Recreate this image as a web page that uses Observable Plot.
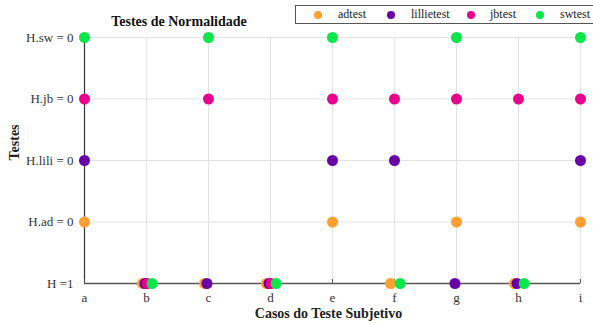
<!DOCTYPE html>
<html>
<head>
<meta charset="utf-8">
<script src="https://cdn.jsdelivr.net/npm/d3@7"></script>
<script src="https://cdn.jsdelivr.net/npm/@observablehq/plot@0.6"></script>
<style>
  html, body { margin: 0; padding: 0; background: #fff; }
  #wrap { position: relative; width: 593px; height: 325px; overflow: hidden; font-family: "Liberation Serif", serif; }
  #title { position: absolute; left: 179px; top: 14px; transform: translateX(-50%); font-weight: bold; font-size: 14px; color: #111; white-space: nowrap; }
  #legend { position: absolute; left: 295px; top: 5px; width: 310px; height: 17px; border: 1.3px solid #555; background: #fff; font-size: 12px; color: #222; }
  #legend span.item { position: absolute; top: 1px; white-space: nowrap; }
  #legend span.dot { position: absolute; top: 5px; width: 8px; height: 8px; border-radius: 50%; }
</style>
</head>
<body>
<div id="wrap">
  <div id="chart"></div>
  <div id="title">Testes de Normalidade</div>
  <div id="legend"></div>
</div>
<script>
const cases = ["a", "b", "c", "d", "e", "f", "g", "h", "i"];
const yTickLabels = ["H =1", "H.ad = 0", "H.lili = 0", "H.jb = 0", "H.sw = 0"];
const tests = ["adtest", "lillietest", "jbtest", "swtest"];
const colors = ["#ff9f30", "#6a00a8", "#e8008f", "#0be64a"];
// H result per case (0 = accept normality, 1 = reject)
const adtest     = [0, 1, 1, 1, 0, 1, 0, 1, 0];
const lillietest = [0, 1, 1, 1, 0, 0, 1, 1, 0];
const jbtest     = [0, 1, 0, 1, 0, 0, 0, 0, 0];
const swtest     = [0, 1, 0, 1, 0, 1, 0, 1, 0];
const rowOf = [1, 2, 3, 4];               // row used when H = 0
const jitter = [-0.065, -0.025, 0.01, 0.09]; // horizontal spread when H = 1

const series = [adtest, lillietest, jbtest, swtest];
const data = [];
series.forEach((vals, t) => {
  vals.forEach((h, i) => {
    data.push({test: tests[t], t, caseIdx: i + 1, h});
  });
});

const plot = Plot.plot({
  width: 593,
  height: 325,
  marginLeft: 84,
  marginRight: 13,
  marginTop: 37,
  marginBottom: 42,
  style: {fontFamily: "Liberation Serif, serif", fontSize: "13px", color: "#333", background: "transparent"},
  x: {domain: [1, 9]},
  y: {domain: [0, 4]},
  color: {domain: tests, range: colors},
  marks: [
    Plot.gridX(d3.range(1, 10), {stroke: "#e2e2e2", strokeOpacity: 1}),
    Plot.gridY(d3.range(0, 5), {stroke: "#e2e2e2", strokeOpacity: 1}),
    Plot.ruleX([1], {stroke: "#333", strokeWidth: 1.2}),
    Plot.ruleY([0], {stroke: "#555", strokeWidth: 1.5}),
    Plot.axisX(d3.range(1, 10), {tickSize: -4, tickPadding: 13, tickFormat: d => cases[d - 1], stroke: "#555", fill: "#333", label: null}),
    Plot.axisY(d3.range(0, 5), {tickSize: 0, tickPadding: 11, tickFormat: d => yTickLabels[d], fill: "#333", label: null}),
    Plot.dot(data, {
      x: d => d.caseIdx + (d.h === 1 ? jitter[d.t] : 0),
      y: d => d.h === 1 ? 0 : rowOf[d.t],
      fill: "test",
      r: 5.5
    }),
    Plot.text(["Casos do Teste Subjetivo"], {frameAnchor: "bottom", dx: -4, dy: 34, fontWeight: "bold", fontSize: 14, fill: "#222", text: d => d}),
    Plot.text(["Testes"], {frameAnchor: "left", dx: -70, rotate: -90, fontWeight: "bold", fontSize: 14, fill: "#222", text: d => d})
  ]
});
document.getElementById("chart").appendChild(plot);

const legend = document.getElementById("legend");
const dotX = [22, 95, 175, 244];
const textX = [42, 115, 194, 264];
tests.forEach((t, i) => {
  const dot = document.createElement("span");
  dot.className = "dot";
  dot.style.left = (dotX[i] - 4) + "px";
  dot.style.background = colors[i];
  legend.appendChild(dot);
  const lab = document.createElement("span");
  lab.className = "item";
  lab.style.left = textX[i] + "px";
  lab.textContent = t;
  legend.appendChild(lab);
});
</script>
</body>
</html>
